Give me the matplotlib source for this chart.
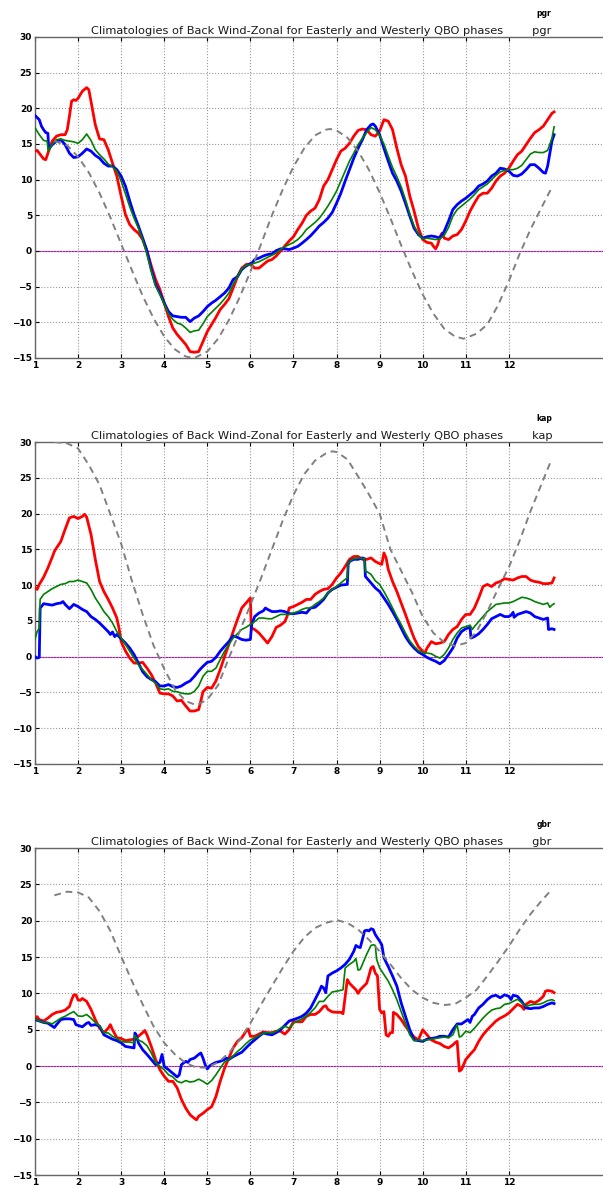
import matplotlib
matplotlib.use("Agg")
import matplotlib.pyplot as plt

TITLE = "Climatologies of Back Wind-Zonal for Easterly and Westerly QBO phases"
STATIONS = ["pgr", "kap", "gbr"]
MONTH_TICKS = list(range(1, 13))
WIND_TICKS = list(range(-15, 31, 5))

# ---- pgr ----
PGR_RED = [(1.0, 14.0), (1.05, 14.1), (1.1, 13.7), (1.2, 12.9), (1.25, 12.8), (1.3, 13.7), (1.4, 15.4),
           (1.5, 16.1), (1.6, 16.3), (1.7, 16.3), (1.75, 17.0), (1.8, 18.9), (1.85, 21.0), (1.9, 21.2),
           (1.95, 21.1), (2.0, 21.4), (2.1, 22.4), (2.2, 22.9), (2.25, 22.6), (2.3, 21.0), (2.4, 17.7),
           (2.5, 15.7), (2.6, 15.6), (2.7, 14.2), (2.8, 12.3), (2.9, 10.5), (3.0, 7.7), (3.1, 5.1),
           (3.2, 3.7), (3.3, 3.0), (3.4, 2.5), (3.5, 1.6), (3.6, 0.0), (3.7, -2.1), (3.8, -4.0),
           (3.9, -5.4), (4.0, -7.3), (4.1, -9.2), (4.2, -10.8), (4.3, -11.7), (4.4, -12.4), (4.5, -13.1),
           (4.6, -14.1), (4.7, -14.2), (4.8, -14.1), (4.9, -12.7), (5.0, -11.3), (5.1, -10.3), (5.2, -9.3),
           (5.3, -8.2), (5.4, -7.5), (5.5, -6.7), (5.6, -5.2), (5.7, -3.6), (5.8, -2.4), (5.9, -1.9),
           (6.0, -1.8), (6.1, -2.4), (6.2, -2.4), (6.3, -1.9), (6.4, -1.4), (6.5, -1.2), (6.6, -0.7),
           (6.7, 0.0), (6.8, 0.7), (6.9, 1.4), (7.0, 2.0), (7.1, 3.0), (7.2, 3.9), (7.3, 5.0), (7.4, 5.6),
           (7.5, 6.0), (7.6, 7.2), (7.7, 9.1), (7.8, 10.0), (7.9, 11.4), (8.0, 12.8), (8.1, 14.0),
           (8.2, 14.4), (8.3, 15.1), (8.4, 16.1), (8.5, 16.9), (8.6, 17.1), (8.7, 17.0), (8.8, 16.3),
           (8.9, 16.1), (9.0, 16.8), (9.1, 18.4), (9.2, 18.2), (9.3, 17.0), (9.4, 14.4), (9.5, 12.1),
           (9.6, 10.5), (9.7, 7.7), (9.8, 5.6), (9.9, 3.2), (10.0, 1.6), (10.1, 1.2), (10.2, 1.1),
           (10.25, 0.65), (10.3, 0.3), (10.35, 0.9), (10.4, 2.0), (10.45, 2.5), (10.5, 1.8), (10.6, 1.6),
           (10.7, 2.1), (10.8, 2.3), (10.9, 3.0), (11.0, 4.2), (11.1, 5.6), (11.2, 6.7), (11.3, 7.7),
           (11.4, 8.1), (11.5, 8.1), (11.6, 8.8), (11.7, 9.8), (11.8, 10.5), (11.9, 10.9), (12.0, 11.6),
           (12.1, 12.6), (12.2, 13.5), (12.3, 14.0), (12.4, 14.9), (12.5, 15.8), (12.6, 16.6), (12.7, 17.0),
           (12.8, 17.5), (12.9, 18.4), (13.0, 19.3), (13.05, 19.5)]
PGR_GREEN = [(1.0, 17.3), (1.1, 16.3), (1.2, 15.5), (1.28, 15.4), (1.31, 14.0), (1.4, 15.0), (1.5, 15.6),
             (1.6, 15.7), (1.7, 15.5), (1.8, 15.4), (1.9, 15.3), (2.0, 15.1), (2.1, 15.6), (2.2, 16.4),
             (2.3, 15.5), (2.4, 14.2), (2.5, 13.5), (2.6, 12.9), (2.7, 12.2), (2.8, 11.8), (2.9, 11.2),
             (3.0, 9.8), (3.1, 8.0), (3.2, 6.2), (3.3, 4.6), (3.4, 3.2), (3.5, 1.6), (3.6, -0.5),
             (3.7, -2.8), (3.8, -4.9), (3.9, -6.1), (4.0, -7.4), (4.1, -8.8), (4.2, -9.6), (4.3, -10.1),
             (4.4, -10.3), (4.5, -10.8), (4.6, -11.4), (4.7, -11.2), (4.8, -11.1), (4.9, -10.2), (5.0, -9.2),
             (5.1, -8.6), (5.2, -8.0), (5.3, -7.4), (5.4, -6.7), (5.5, -5.9), (5.6, -4.7), (5.7, -3.6),
             (5.8, -2.5), (5.9, -2.0), (6.0, -1.9), (6.1, -1.7), (6.2, -1.5), (6.3, -1.2), (6.4, -0.9),
             (6.5, -0.6), (6.6, -0.3), (6.7, 0.2), (6.8, 0.6), (6.9, 0.9), (7.0, 1.2), (7.1, 1.6),
             (7.2, 2.2), (7.3, 3.0), (7.4, 3.5), (7.5, 4.0), (7.6, 4.6), (7.7, 5.4), (7.8, 6.3), (7.9, 7.3),
             (8.0, 8.4), (8.1, 9.8), (8.2, 11.2), (8.3, 12.6), (8.4, 13.7), (8.5, 14.9), (8.6, 15.8),
             (8.7, 16.6), (8.8, 17.3), (8.9, 17.0), (9.0, 16.2), (9.1, 15.0), (9.2, 13.3), (9.3, 11.7),
             (9.4, 10.4), (9.5, 9.0), (9.6, 7.2), (9.7, 5.2), (9.8, 3.5), (9.9, 2.4), (10.0, 1.7),
             (10.1, 1.8), (10.2, 1.7), (10.3, 1.6), (10.4, 1.7), (10.5, 2.2), (10.6, 3.3), (10.7, 4.9),
             (10.8, 5.8), (10.9, 6.3), (11.0, 6.8), (11.1, 7.3), (11.2, 7.9), (11.3, 8.6), (11.4, 9.0),
             (11.5, 9.4), (11.6, 10.0), (11.7, 10.6), (11.8, 11.1), (11.9, 11.3), (12.0, 11.4), (12.1, 11.4),
             (12.2, 11.6), (12.3, 12.0), (12.4, 12.8), (12.5, 13.6), (12.6, 13.9), (12.7, 13.8), (12.8, 13.8),
             (12.9, 14.1), (13.0, 15.8), (13.05, 17.4)]
PGR_BLUE = [(1.0, 19.0), (1.1, 18.4), (1.15, 17.5), (1.2, 17.0), (1.25, 16.6), (1.3, 16.5), (1.32, 14.3),
            (1.4, 14.9), (1.5, 15.4), (1.6, 15.6), (1.7, 14.9), (1.8, 13.7), (1.9, 13.1), (2.0, 13.2),
            (2.1, 13.7), (2.2, 14.3), (2.3, 14.0), (2.4, 13.4), (2.5, 13.0), (2.6, 12.3), (2.7, 11.9),
            (2.8, 11.9), (2.9, 11.4), (3.0, 10.5), (3.1, 9.1), (3.2, 7.0), (3.3, 5.1), (3.4, 3.5),
            (3.5, 1.8), (3.6, 0.0), (3.7, -2.6), (3.8, -4.7), (3.9, -5.9), (4.0, -7.3), (4.1, -8.5),
            (4.2, -9.1), (4.3, -9.2), (4.4, -9.3), (4.5, -9.3), (4.6, -9.9), (4.7, -9.4), (4.8, -9.1),
            (4.9, -8.5), (5.0, -7.8), (5.1, -7.3), (5.2, -6.9), (5.3, -6.4), (5.4, -5.9), (5.5, -5.2),
            (5.6, -4.0), (5.7, -3.6), (5.8, -2.6), (5.9, -2.1), (6.0, -1.8), (6.05, -1.6), (6.1, -1.2),
            (6.2, -1.0), (6.3, -0.7), (6.4, -0.5), (6.5, -0.4), (6.6, 0.05), (6.7, 0.3), (6.8, 0.3),
            (6.9, 0.2), (7.0, 0.4), (7.1, 0.65), (7.2, 1.1), (7.3, 1.6), (7.4, 2.15), (7.5, 2.8),
            (7.6, 3.5), (7.7, 4.0), (7.8, 4.6), (7.9, 5.4), (8.0, 6.7), (8.1, 8.1), (8.2, 9.8), (8.3, 11.4),
            (8.4, 13.0), (8.5, 14.4), (8.6, 15.6), (8.7, 17.0), (8.8, 17.7), (8.85, 17.8), (8.9, 17.5),
            (9.0, 16.3), (9.1, 14.4), (9.2, 12.6), (9.3, 10.9), (9.4, 9.8), (9.5, 8.4), (9.6, 6.7),
            (9.7, 4.9), (9.8, 3.2), (9.9, 2.3), (10.0, 1.8), (10.1, 2.0), (10.2, 2.1), (10.3, 2.0),
            (10.4, 1.8), (10.5, 2.75), (10.6, 4.2), (10.7, 5.8), (10.8, 6.5), (10.9, 7.0), (11.0, 7.4),
            (11.1, 7.9), (11.2, 8.4), (11.3, 9.1), (11.4, 9.4), (11.5, 9.8), (11.6, 10.5), (11.7, 10.9),
            (11.8, 11.6), (11.9, 11.5), (12.0, 11.2), (12.1, 10.6), (12.2, 10.5), (12.3, 10.8), (12.4, 11.4),
            (12.5, 12.1), (12.6, 12.1), (12.7, 11.6), (12.8, 11.0), (12.85, 10.9), (12.9, 11.9), (13.0, 15.4),
            (13.05, 16.3)]
PGR_FIT = [(1.45, 15.4), (1.75, 14.8), (2.0, 13.2), (2.25, 11.0), (2.5, 8.1), (2.75, 4.7), (3.0, 1.0),
           (3.25, -2.7), (3.5, -6.3), (3.75, -9.4), (4.0, -12.0), (4.25, -13.8), (4.5, -14.8), (4.7, -15.0),
           (5.0, -14.1), (5.25, -12.3), (5.5, -9.7), (5.75, -6.5), (6.0, -2.9), (6.25, 1.0), (6.5, 5.0),
           (6.75, 8.6), (7.0, 11.8), (7.25, 14.4), (7.5, 16.2), (7.75, 17.0), (7.85, 17.1), (8.0, 16.9),
           (8.25, 15.9), (8.5, 14.0), (8.75, 11.4), (9.0, 8.2), (9.25, 4.6), (9.5, 0.8), (9.75, -2.8),
           (10.0, -6.1), (10.25, -8.8), (10.5, -10.9), (10.75, -12.0), (10.95, -12.3), (11.25, -11.6),
           (11.5, -10.3), (11.75, -7.6), (12.0, -4.2), (12.25, -0.4), (12.5, 3.0), (12.75, 6.0), (12.98, 8.7)]

# ---- kap ----
KAP_RED = [(1.0, 9.6), (1.05, 9.4), (1.1, 10.1), (1.2, 11.1), (1.3, 12.4), (1.4, 13.9), (1.45, 14.7),
           (1.5, 15.2), (1.6, 16.1), (1.7, 17.8), (1.8, 19.4), (1.9, 19.6), (2.0, 19.3), (2.1, 19.6),
           (2.15, 19.9), (2.2, 19.5), (2.3, 17.1), (2.4, 13.6), (2.5, 10.5), (2.6, 9.1), (2.7, 8.0),
           (2.8, 6.8), (2.9, 5.4), (2.95, 4.0), (3.0, 2.1), (3.1, 0.8), (3.2, -0.2), (3.3, -0.9),
           (3.4, -0.9), (3.5, -0.8), (3.6, -1.6), (3.7, -2.5), (3.8, -3.7), (3.9, -5.1), (4.0, -5.2),
           (4.1, -5.2), (4.2, -5.5), (4.3, -6.2), (4.4, -6.1), (4.5, -6.9), (4.6, -7.6), (4.7, -7.6),
           (4.8, -7.4), (4.85, -6.2), (4.9, -4.9), (5.0, -4.3), (5.1, -4.4), (5.2, -3.4), (5.3, -1.8),
           (5.4, 0.0), (5.5, 1.7), (5.6, 3.5), (5.7, 5.2), (5.8, 6.8), (5.9, 7.5), (6.0, 8.2), (6.02, 4.0),
           (6.1, 3.8), (6.2, 3.3), (6.3, 2.6), (6.4, 1.9), (6.5, 2.8), (6.6, 4.1), (6.7, 4.4), (6.8, 4.9),
           (6.85, 5.6), (6.9, 6.8), (7.0, 7.0), (7.1, 7.3), (7.2, 7.6), (7.3, 8.0), (7.4, 8.0), (7.5, 8.7),
           (7.6, 9.1), (7.7, 9.4), (7.8, 9.5), (7.9, 10.1), (8.0, 11.0), (8.1, 11.7), (8.2, 12.6),
           (8.3, 13.6), (8.4, 14.0), (8.5, 14.0), (8.6, 13.6), (8.7, 13.6), (8.8, 13.8), (8.9, 13.3),
           (9.0, 13.0), (9.05, 12.9), (9.1, 14.5), (9.15, 13.8), (9.2, 12.2), (9.3, 10.5), (9.4, 9.1),
           (9.5, 7.5), (9.6, 5.9), (9.7, 4.2), (9.8, 2.6), (9.9, 1.4), (10.0, 0.75), (10.05, 0.5),
           (10.1, 1.2), (10.2, 2.1), (10.3, 1.8), (10.4, 1.9), (10.5, 2.1), (10.6, 3.1), (10.7, 3.8),
           (10.8, 4.2), (10.9, 5.2), (11.0, 5.9), (11.1, 5.9), (11.2, 6.8), (11.3, 8.2), (11.4, 9.8),
           (11.5, 10.1), (11.6, 9.8), (11.7, 10.3), (11.8, 10.5), (11.9, 10.9), (12.0, 10.8), (12.1, 10.7),
           (12.2, 11.0), (12.3, 11.2), (12.4, 11.2), (12.5, 10.7), (12.6, 10.5), (12.7, 10.4), (12.8, 10.2),
           (12.9, 10.2), (13.0, 10.3), (13.05, 11.0)]
KAP_GREEN = [(1.0, 2.4), (1.05, 3.5), (1.1, 4.0), (1.12, 8.0), (1.2, 8.7), (1.3, 9.1), (1.4, 9.5), (1.5, 9.8),
             (1.6, 10.1), (1.7, 10.2), (1.8, 10.5), (1.9, 10.5), (2.0, 10.7), (2.1, 10.5), (2.2, 10.3),
             (2.3, 9.4), (2.4, 8.2), (2.5, 7.3), (2.6, 6.3), (2.7, 5.6), (2.8, 4.7), (2.9, 3.5), (3.0, 2.6),
             (3.1, 1.7), (3.2, 0.75), (3.3, -0.2), (3.4, -1.1), (3.5, -1.8), (3.6, -2.5), (3.7, -3.2),
             (3.8, -3.7), (3.9, -4.5), (4.0, -4.6), (4.1, -4.5), (4.2, -4.85), (4.3, -4.9), (4.4, -5.1),
             (4.5, -5.2), (4.6, -5.2), (4.7, -4.85), (4.8, -4.1), (4.9, -2.75), (5.0, -2.05), (5.1, -2.05),
             (5.2, -1.6), (5.3, -0.4), (5.4, 0.75), (5.5, 1.7), (5.6, 2.6), (5.7, 3.2), (5.8, 3.8),
             (5.9, 4.1), (6.0, 4.5), (6.1, 4.9), (6.2, 5.4), (6.3, 5.4), (6.4, 5.3), (6.5, 5.3), (6.6, 5.6),
             (6.7, 5.9), (6.8, 5.9), (6.9, 5.9), (7.0, 6.1), (7.1, 6.3), (7.2, 6.6), (7.3, 6.8), (7.4, 6.8),
             (7.5, 7.3), (7.6, 7.7), (7.7, 8.2), (7.8, 8.9), (7.9, 9.4), (8.0, 9.8), (8.1, 10.3),
             (8.2, 10.8), (8.25, 11.0), (8.27, 13.1), (8.3, 13.3), (8.4, 13.7), (8.5, 13.8), (8.65, 13.7),
             (8.67, 11.9), (8.7, 11.9), (8.8, 11.5), (8.9, 10.6), (9.0, 10.1), (9.1, 9.1), (9.2, 8.0),
             (9.3, 6.8), (9.4, 5.6), (9.5, 4.5), (9.6, 3.3), (9.7, 2.2), (9.8, 1.45), (9.9, 0.85),
             (10.0, 0.6), (10.1, 0.5), (10.2, 0.4), (10.3, 0.05), (10.4, -0.2), (10.5, 0.3), (10.6, 1.2),
             (10.7, 2.4), (10.8, 3.3), (10.9, 4.0), (11.0, 4.2), (11.1, 4.4), (11.15, 3.8), (11.2, 4.2),
             (11.3, 4.9), (11.4, 5.6), (11.5, 6.3), (11.6, 6.8), (11.7, 7.3), (11.8, 7.4), (11.9, 7.5),
             (12.0, 7.5), (12.1, 7.7), (12.2, 8.0), (12.3, 8.3), (12.4, 8.2), (12.5, 8.0), (12.6, 7.7),
             (12.7, 7.5), (12.8, 7.3), (12.9, 7.5), (12.95, 6.9), (13.0, 7.2), (13.05, 7.4)]
KAP_BLUE = [(1.0, 0.0), (1.05, -0.2), (1.1, -0.1), (1.12, 6.8), (1.15, 7.0), (1.2, 7.4), (1.3, 7.3),
            (1.4, 7.2), (1.5, 7.4), (1.6, 7.5), (1.65, 7.7), (1.7, 7.3), (1.8, 6.7), (1.9, 7.3), (2.0, 7.0),
            (2.1, 6.6), (2.2, 6.3), (2.3, 5.6), (2.4, 5.2), (2.5, 4.7), (2.6, 4.1), (2.7, 3.5), (2.75, 3.1),
            (2.8, 3.45), (2.85, 2.8), (2.9, 3.1), (3.0, 2.5), (3.1, 1.9), (3.2, 1.2), (3.3, 0.3),
            (3.4, -0.9), (3.5, -2.1), (3.6, -2.8), (3.7, -3.2), (3.8, -3.5), (3.9, -4.1), (4.0, -4.1),
            (4.1, -3.9), (4.2, -4.2), (4.3, -4.3), (4.4, -4.1), (4.5, -3.7), (4.6, -3.4), (4.7, -2.75),
            (4.8, -2.0), (4.9, -1.35), (5.0, -0.8), (5.1, -0.65), (5.2, -0.1), (5.3, 0.75), (5.4, 1.45),
            (5.5, 2.1), (5.6, 2.9), (5.7, 2.7), (5.8, 2.4), (5.9, 2.3), (6.0, 2.4), (6.03, 4.5),
            (6.1, 5.6), (6.2, 6.1), (6.3, 6.4), (6.35, 6.8), (6.4, 6.6), (6.5, 6.3), (6.6, 6.3), (6.7, 6.4),
            (6.8, 6.3), (6.9, 6.0), (7.0, 6.0), (7.1, 6.1), (7.2, 6.2), (7.3, 6.1), (7.4, 6.8), (7.5, 6.9),
            (7.6, 7.4), (7.7, 8.0), (7.8, 8.9), (7.9, 9.4), (8.0, 9.7), (8.1, 10.0), (8.25, 10.1),
            (8.27, 12.9), (8.3, 13.3), (8.4, 13.6), (8.5, 13.6), (8.6, 13.8), (8.65, 13.7), (8.67, 11.2),
            (8.7, 11.0), (8.8, 10.3), (8.9, 9.6), (9.0, 9.1), (9.1, 8.2), (9.2, 7.3), (9.3, 6.3),
            (9.4, 5.2), (9.5, 4.0), (9.6, 2.8), (9.7, 1.9), (9.8, 1.2), (9.9, 0.65), (10.0, 0.3),
            (10.1, -0.1), (10.2, -0.4), (10.3, -0.65), (10.4, -1.0), (10.5, -0.55), (10.6, 0.3),
            (10.7, 1.2), (10.8, 2.6), (10.9, 3.5), (11.0, 3.9), (11.1, 4.1), (11.12, 2.6), (11.2, 2.8),
            (11.3, 3.2), (11.4, 3.8), (11.5, 4.5), (11.6, 5.3), (11.7, 5.6), (11.8, 5.9), (11.9, 5.6),
            (12.0, 5.6), (12.05, 5.8), (12.1, 6.2), (12.12, 5.5), (12.2, 5.9), (12.3, 6.1), (12.4, 6.3),
            (12.5, 6.1), (12.6, 5.6), (12.7, 5.4), (12.8, 5.2), (12.9, 5.4), (12.92, 3.8), (13.0, 3.9),
            (13.05, 3.8)]
KAP_FIT = [(1.45, 30.0), (1.75, 29.8), (2.0, 29.1), (2.25, 26.8), (2.5, 24.0), (2.75, 19.9), (3.0, 15.8),
           (3.25, 10.6), (3.5, 5.9), (3.75, 1.6), (4.0, -1.7), (4.25, -4.6), (4.5, -6.2), (4.75, -6.8),
           (5.0, -6.0), (5.25, -4.0), (5.5, -0.2), (5.75, 3.5), (6.0, 7.2), (6.25, 11.0), (6.5, 15.0),
           (6.75, 19.0), (7.0, 22.6), (7.25, 25.5), (7.5, 27.4), (7.75, 28.4), (7.9, 28.7), (8.0, 28.6),
           (8.25, 27.6), (8.5, 25.2), (8.75, 22.7), (9.0, 20.0), (9.25, 15.0), (9.5, 12.0), (9.75, 9.0),
           (10.0, 5.6), (10.25, 3.3), (10.5, 2.0), (10.75, 1.5), (11.0, 1.9), (11.25, 3.5), (11.5, 6.3),
           (11.75, 9.5), (12.0, 12.5), (12.25, 16.2), (12.5, 20.3), (12.75, 24.0), (12.98, 27.4)]

# ---- gbr ----
GBR_RED = [(1.0, 6.4), (1.05, 6.8), (1.1, 6.4), (1.2, 6.2), (1.3, 6.6), (1.4, 7.1), (1.5, 7.4), (1.6, 7.5),
           (1.7, 7.7), (1.8, 8.2), (1.85, 9.1), (1.9, 9.8), (1.95, 9.8), (2.0, 9.1), (2.05, 9.05),
           (2.1, 9.3), (2.2, 8.9), (2.3, 7.8), (2.4, 6.4), (2.5, 5.2), (2.6, 4.6), (2.7, 5.2), (2.75, 5.7),
           (2.8, 5.0), (2.9, 3.9), (3.0, 3.8), (3.1, 3.5), (3.2, 3.6), (3.3, 3.7), (3.4, 4.1), (3.5, 4.6),
           (3.55, 4.9), (3.6, 4.3), (3.7, 2.7), (3.8, 0.9), (3.9, -0.5), (4.0, -1.4), (4.1, -2.1),
           (4.2, -2.1), (4.3, -3.0), (4.4, -4.6), (4.5, -5.8), (4.6, -6.7), (4.7, -7.2), (4.75, -7.4),
           (4.8, -6.9), (4.9, -6.5), (5.0, -6.0), (5.1, -5.6), (5.2, -4.2), (5.3, -2.1), (5.4, -0.3),
           (5.5, 1.1), (5.6, 2.5), (5.7, 3.4), (5.8, 3.9), (5.9, 4.8), (5.95, 5.1), (6.0, 4.1),
           (6.1, 4.1), (6.2, 4.4), (6.3, 4.7), (6.4, 4.6), (6.5, 4.6), (6.6, 4.8), (6.7, 4.8), (6.8, 4.4),
           (6.9, 5.0), (7.0, 6.1), (7.1, 6.1), (7.2, 6.1), (7.3, 6.85), (7.4, 7.1), (7.5, 7.1), (7.6, 7.5),
           (7.7, 8.2), (7.75, 8.3), (7.8, 7.8), (7.9, 7.45), (8.0, 7.4), (8.1, 7.4), (8.15, 7.2),
           (8.2, 9.6), (8.25, 11.9), (8.3, 11.4), (8.4, 10.8), (8.45, 10.5), (8.5, 10.0), (8.55, 10.5),
           (8.6, 10.8), (8.7, 11.4), (8.75, 12.4), (8.8, 13.5), (8.85, 13.7), (8.9, 12.8), (8.95, 12.4),
           (9.0, 7.8), (9.05, 7.3), (9.1, 7.5), (9.15, 4.3), (9.2, 4.1), (9.25, 4.6), (9.3, 4.6),
           (9.32, 7.4), (9.4, 7.1), (9.5, 6.4), (9.6, 5.5), (9.7, 4.7), (9.8, 4.0), (9.9, 3.6),
           (10.0, 5.0), (10.1, 4.3), (10.2, 3.6), (10.3, 3.3), (10.4, 3.1), (10.5, 2.7), (10.6, 2.5),
           (10.7, 2.9), (10.75, 3.2), (10.8, 3.4), (10.85, -0.7), (10.9, -0.5), (11.0, 0.9), (11.1, 1.6),
           (11.2, 2.25), (11.3, 3.4), (11.4, 4.3), (11.5, 5.0), (11.6, 5.6), (11.7, 6.2), (11.8, 6.6),
           (11.9, 6.9), (12.0, 7.3), (12.1, 7.9), (12.2, 8.5), (12.3, 8.2), (12.35, 7.8), (12.4, 8.5),
           (12.5, 8.9), (12.6, 8.7), (12.7, 9.05), (12.8, 9.6), (12.85, 10.3), (12.9, 10.4), (13.0, 10.3),
           (13.05, 10.1)]
GBR_GREEN = [(1.0, 6.5), (1.1, 6.2), (1.2, 6.0), (1.3, 6.0), (1.4, 5.8), (1.5, 6.2), (1.6, 6.6), (1.7, 6.85),
             (1.8, 7.2), (1.9, 7.5), (2.0, 6.9), (2.1, 6.85), (2.2, 7.1), (2.3, 6.6), (2.4, 6.0), (2.5, 5.5),
             (2.6, 4.6), (2.7, 4.55), (2.8, 4.1), (2.9, 3.8), (3.0, 3.4), (3.1, 3.3), (3.2, 3.3), (3.3, 3.2),
             (3.32, 4.2), (3.4, 3.6), (3.5, 3.3), (3.6, 2.8), (3.7, 1.8), (3.8, 0.5), (3.9, -0.05),
             (4.0, -0.5), (4.1, -1.2), (4.2, -1.5), (4.3, -2.1), (4.4, -2.3), (4.5, -2.0), (4.6, -2.2),
             (4.7, -2.1), (4.8, -1.8), (4.9, -2.1), (5.0, -2.5), (5.1, -2.0), (5.2, -1.2), (5.3, -0.3),
             (5.4, 0.55), (5.5, 0.9), (5.6, 1.4), (5.7, 2.0), (5.8, 2.5), (5.9, 3.1), (6.0, 3.6),
             (6.1, 3.9), (6.2, 4.2), (6.3, 4.55), (6.4, 4.6), (6.5, 4.55), (6.6, 4.8), (6.7, 5.2),
             (6.8, 5.5), (6.9, 5.2), (7.0, 5.9), (7.1, 6.2), (7.2, 6.5), (7.3, 6.85), (7.4, 7.4), (7.5, 8.0),
             (7.6, 8.9), (7.7, 8.9), (7.8, 9.6), (7.9, 10.2), (8.0, 10.3), (8.15, 10.5), (8.2, 13.5),
             (8.3, 14.0), (8.4, 14.4), (8.45, 14.8), (8.5, 13.2), (8.55, 13.3), (8.6, 14.0), (8.7, 15.4),
             (8.8, 16.6), (8.85, 16.7), (8.9, 16.6), (8.93, 14.7), (9.0, 13.5), (9.1, 12.6), (9.2, 11.7),
             (9.3, 10.5), (9.4, 9.15), (9.5, 7.5), (9.6, 5.9), (9.7, 4.3), (9.8, 3.5), (9.9, 3.6),
             (10.0, 3.5), (10.1, 3.6), (10.2, 3.7), (10.3, 3.8), (10.4, 3.9), (10.5, 4.0), (10.6, 3.9),
             (10.7, 4.3), (10.8, 5.7), (10.85, 4.0), (10.9, 4.1), (11.0, 4.8), (11.1, 4.6), (11.2, 5.2),
             (11.3, 5.9), (11.4, 6.6), (11.5, 7.2), (11.6, 7.7), (11.7, 7.9), (11.8, 8.0), (11.9, 8.5),
             (12.0, 8.6), (12.1, 8.9), (12.2, 9.2), (12.3, 8.7), (12.4, 8.2), (12.5, 8.4), (12.6, 8.5),
             (12.7, 8.5), (12.8, 8.7), (12.9, 9.0), (13.0, 9.15), (13.05, 9.0)]
GBR_BLUE = [(1.0, 6.4), (1.1, 6.2), (1.2, 6.0), (1.3, 5.9), (1.4, 5.5), (1.45, 5.3), (1.5, 5.7), (1.6, 6.4),
            (1.7, 6.5), (1.8, 6.5), (1.9, 6.4), (1.95, 5.7), (2.0, 5.6), (2.1, 5.4), (2.2, 5.9),
            (2.25, 6.0), (2.3, 5.6), (2.4, 5.7), (2.5, 5.5), (2.6, 4.3), (2.7, 4.0), (2.8, 3.7), (2.9, 3.5),
            (3.0, 3.2), (3.1, 2.7), (3.2, 2.6), (3.3, 2.5), (3.32, 4.55), (3.35, 4.3), (3.4, 3.2),
            (3.5, 2.25), (3.6, 1.6), (3.7, 0.9), (3.8, 0.2), (3.9, 0.5), (3.95, 1.6), (4.0, -0.05),
            (4.1, -0.5), (4.2, -1.0), (4.3, -1.5), (4.35, -1.2), (4.4, 0.2), (4.5, 0.65), (4.55, 0.5),
            (4.6, 0.9), (4.7, 1.1), (4.8, 1.6), (4.85, 1.8), (4.9, 1.1), (4.95, 0.2), (5.0, -0.4),
            (5.05, 0.0), (5.1, 0.2), (5.2, 0.5), (5.3, 0.65), (5.4, 0.9), (5.45, 1.1), (5.5, 0.9),
            (5.6, 1.3), (5.7, 1.6), (5.8, 1.9), (5.9, 2.5), (6.0, 3.1), (6.1, 3.6), (6.2, 4.1), (6.3, 4.55),
            (6.4, 4.4), (6.5, 4.3), (6.6, 4.6), (6.7, 5.0), (6.8, 5.6), (6.9, 6.2), (7.0, 6.4), (7.1, 6.6),
            (7.2, 6.85), (7.3, 7.3), (7.4, 8.0), (7.5, 9.15), (7.6, 10.3), (7.65, 11.0), (7.7, 10.75),
            (7.75, 10.1), (7.8, 12.4), (7.9, 12.8), (8.0, 13.1), (8.1, 13.5), (8.2, 14.0), (8.3, 14.7),
            (8.4, 15.8), (8.45, 16.6), (8.5, 16.4), (8.55, 16.3), (8.6, 17.4), (8.65, 18.6), (8.7, 18.7),
            (8.75, 18.6), (8.8, 18.9), (8.85, 18.8), (8.9, 18.1), (9.0, 17.2), (9.05, 16.7), (9.1, 14.9),
            (9.2, 13.7), (9.3, 12.4), (9.4, 11.0), (9.5, 8.7), (9.6, 6.85), (9.7, 5.0), (9.8, 3.6),
            (9.9, 3.5), (10.0, 3.4), (10.1, 3.7), (10.2, 3.8), (10.3, 3.9), (10.4, 4.1), (10.5, 4.1),
            (10.6, 4.0), (10.7, 5.0), (10.8, 5.8), (10.9, 5.8), (11.0, 6.2), (11.05, 6.4), (11.1, 6.0),
            (11.15, 6.85), (11.2, 7.1), (11.3, 8.0), (11.4, 8.5), (11.5, 9.15), (11.6, 9.6), (11.7, 9.75),
            (11.8, 9.4), (11.9, 9.8), (12.0, 9.6), (12.05, 9.15), (12.1, 9.75), (12.2, 9.6), (12.3, 8.9),
            (12.4, 8.0), (12.5, 7.9), (12.6, 8.0), (12.7, 8.0), (12.8, 8.2), (12.9, 8.5), (13.0, 8.7),
            (13.05, 8.6)]
GBR_FIT = [(1.45, 23.5), (1.75, 24.0), (2.0, 23.9), (2.25, 23.2), (2.5, 21.3), (2.75, 18.6), (3.0, 15.1),
           (3.25, 11.7), (3.5, 8.5), (3.75, 5.5), (4.0, 3.2), (4.25, 1.6), (4.5, 0.4), (4.75, -0.2),
           (5.0, -0.2), (5.25, 0.5), (5.5, 1.8), (5.75, 3.6), (6.0, 5.9), (6.25, 8.5), (6.5, 11.0),
           (6.75, 13.5), (7.0, 15.8), (7.25, 17.7), (7.5, 19.0), (7.75, 19.7), (8.0, 20.1), (8.25, 19.7),
           (8.5, 18.8), (8.75, 17.4), (9.0, 15.8), (9.25, 14.0), (9.5, 12.1), (9.75, 10.5), (10.0, 9.4),
           (10.25, 8.7), (10.5, 8.4), (10.75, 8.55), (11.0, 9.4), (11.25, 10.5), (11.5, 12.4),
           (11.75, 14.4), (12.0, 16.5), (12.25, 18.8), (12.5, 20.9), (12.75, 22.7), (12.98, 24.2)]

PANELS = {
    "pgr": (PGR_RED, PGR_GREEN, PGR_BLUE, PGR_FIT),
    "kap": (KAP_RED, KAP_GREEN, KAP_BLUE, KAP_FIT),
    "gbr": (GBR_RED, GBR_GREEN, GBR_BLUE, GBR_FIT),
}

# axes boxes in figure fraction (left, bottom, width, height)
BOXES = [(0.058, 0.6979, 0.9502, 0.2709),
         (0.058, 0.3553, 0.9502, 0.2717),
         (0.058, 0.0084, 0.9502, 0.2759)]


def xy(pairs):
    return [p[0] for p in pairs], [p[1] for p in pairs]


fig = plt.figure(figsize=(6.03, 11.85), dpi=100)

for box, name in zip(BOXES, STATIONS):
    red, green, blue, fit = PANELS[name]
    ax = fig.add_axes(box)

    ax.axhline(0, color="m", lw=0.8, zorder=1)
    ax.plot(*xy(red), color="r", lw=2.0, zorder=3)
    ax.plot(*xy(blue), color="b", lw=2.0, zorder=4)
    ax.plot(*xy(green), color="g", lw=1.2, zorder=5)
    ax.plot(*xy(fit), color="0.5", lw=1.4, ls=(0, (3.5, 2.5)), zorder=6)

    ax.set_xlim(1, 14.3)
    ax.set_ylim(-15, 30)
    ax.set_xticks(MONTH_TICKS)
    ax.set_yticks(WIND_TICKS)
    ax.tick_params(direction="in", length=3, labelsize=6.5, pad=2,
                   top=True, right=True)
    for lab in ax.get_xticklabels() + ax.get_yticklabels():
        lab.set_fontweight("bold")
    ax.grid(True, color="0.6", ls=":", lw=0.8)
    for sp in ax.spines.values():
        sp.set_color("0.4")
        sp.set_linewidth(1.0)

    ax.set_title(TITLE + "        " + name, fontsize=8.2, pad=2, color="0.1")
    ax.annotate(name, xy=(544 / 603, box[1] + box[3]), xycoords="figure fraction",
                xytext=(0, 14), textcoords="offset points", ha="center", va="bottom",
                fontsize=5.5, fontweight="bold")

fig.savefig("out.png", dpi=100)
